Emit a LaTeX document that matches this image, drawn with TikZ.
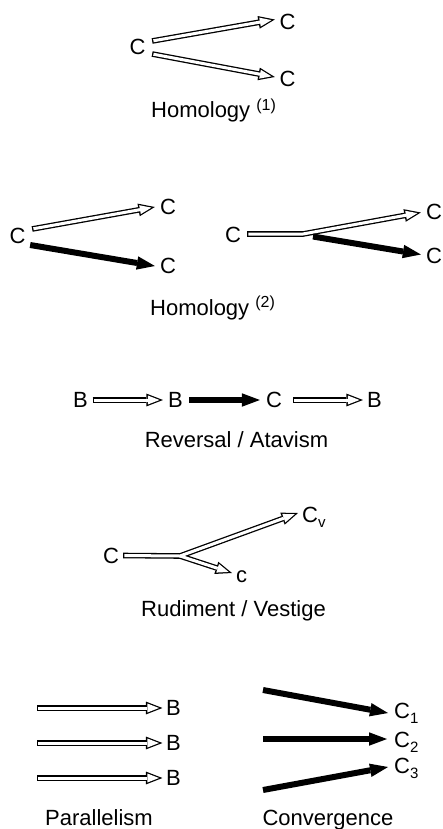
\documentclass[tikz,border=0pt]{standalone}
\usepackage{fontspec}
\setmainfont{Liberation Sans}
\usetikzlibrary{arrows.meta}

% raised index in parentheses and lowered subscript, sized for 22pt text
\newcommand\supnum[1]{\raisebox{7.5pt}{\fontsize{16}{16}\selectfont(#1)}}
\newcommand\subidx[1]{\raisebox{-5.5pt}{\fontsize{15}{15}\selectfont #1}}

\tikzset{
  sym/.style={inner sep=0pt, font=\fontsize{22}{26}\selectfont},
  caption/.style={inner sep=0pt, font=\fontsize{22}{26}\selectfont, anchor=base},
  % hollow arrow = black body with a white body laid inside it
  hollowouter/.style={line width=5.6pt, -{Triangle[length=16.5pt,width=12.8pt,line width=0pt]}},
  hollowinner/.style={white, line width=3pt, shorten <=1.3pt, shorten >=3.5pt,
    -{Triangle[length=11.6pt,width=9pt,line width=0pt]}},
  filledarrow/.style={line width=6pt, -{Triangle[length=18pt,width=13.5pt,line width=0pt]}},
}
\newcommand\hollowlink[1]{\draw[hollowouter] #1; \draw[hollowinner] #1;}

\begin{document}
\begin{tikzpicture}[x=1pt,y=-1pt]
\fill[white] (0,0) rectangle (443,829);
\useasboundingbox (0,0) rectangle (443,829);

% ---- Homology (1)
\node[sym] (a0) at (137.5,47) {C};
\node[sym] (a1) at (287.5,22) {C};
\node[sym] (a2) at (287.5,78.5) {C};
\hollowlink{([shift={(6.5,-6)}]a0.east) -- ([shift={(-4.5,-2.5)}]a1.west)}
\hollowlink{([shift={(6.5,7)}]a0.east) -- ([shift={(-4.5,-1.5)}]a2.west)}
\node[caption, anchor=base west] (h1) at (151,118) {Homology \supnum{1}};

% ---- Homology (2), left: separate origins
\node[sym] (b0) at (17.5,235.5) {C};
\node[sym] (b1) at (168,206.5) {C};
\node[sym] (b2) at (168,265.5) {C};
\hollowlink{([shift={(6.5,-6.5)}]b0.east) -- ([shift={(-5,0.5)}]b1.west)}
\draw[filledarrow] ([shift={(4.5,9.5)}]b0.east) -- ([shift={(-5,0.5)}]b2.west);

% ---- Homology (2), right: common stem
\node[sym] (b3) at (233,234.5) {C};
\node[sym] (b4) at (434,211.5) {C};
\node[sym] (b5) at (434,256) {C};
\coordinate (bsplit) at (303,234);
\coordinate (bdark) at (313,236.5);
\hollowlink{([shift={(6,-0.5)}]b3.east) -- (bsplit) -- ([shift={(-5,1)}]b4.west)}
\draw[filledarrow] (bdark) -- ([shift={(-5,-1.5)}]b5.west);
\node[caption, anchor=base west] (h2) at (150,315) {Homology \supnum{2}};

% ---- Reversal / Atavism
\node[sym] (c0) at (80.5,400) {B};
\node[sym] (c1) at (175.5,400) {B};
\node[sym] (c2) at (274,400) {C};
\node[sym] (c3) at (374.5,400) {B};
\hollowlink{([xshift=4.5pt]c0.east) -- ([xshift=-5pt]c1.west)}
\draw[filledarrow] ([xshift=6pt]c1.east) -- ([xshift=-6pt]c2.west);
\hollowlink{([xshift=11pt]c2.east) -- ([xshift=-4pt]c3.west)}
\node[caption] (rv) at (236.5,447) {Reversal / Atavism};

% ---- Rudiment / Vestige
\node[sym] (d0) at (111,555.5) {C};
\node[sym, anchor=base west] (d1) at (302,522) {C\subidx{v}};
\node[sym, anchor=base west] (d2) at (236,582) {c};
\coordinate (dsplit) at (180,556);
\draw[hollowouter] ([xshift=4pt]d0.east) -- (dsplit) -- ([shift={(-4,-9)}]d1.base west);
\draw[hollowouter] (dsplit) -- ([shift={(-4,-9)}]d2.base west);
\draw[hollowinner] ([xshift=4pt]d0.east) -- (dsplit) -- ([shift={(-4,-9)}]d1.base west);
\draw[hollowinner, shorten <=0pt] (dsplit) -- ([shift={(-4,-9)}]d2.base west);
\node[caption] (rd) at (233.5,616) {Rudiment / Vestige};

% ---- Parallelism
\node[sym] (e0) at (173.5,708) {B};
\node[sym] (e1) at (173.5,743) {B};
\node[sym] (e2) at (173.5,778) {B};
\coordinate (p0) at (37,708);
\coordinate (p1) at (37,743);
\coordinate (p2) at (37,778);
\hollowlink{(p0) -- ([xshift=-3.5pt]e0.west)}
\hollowlink{(p1) -- ([xshift=-3.5pt]e1.west)}
\hollowlink{(p2) -- ([xshift=-3.5pt]e2.west)}
\node[caption] (pl) at (99,825) {Parallelism};

% ---- Convergence
\node[sym, anchor=base west] (f0) at (394,718) {C\subidx{1}};
\node[sym, anchor=base west] (f1) at (394,747) {C\subidx{2}};
\node[sym, anchor=base west] (f2) at (394,773) {C\subidx{3}};
\coordinate (q0) at (263,690);
\coordinate (q1) at (263,739);
\coordinate (q2) at (263,790);
\draw[filledarrow] (q0) -- ([shift={(-6,-5)}]f0.base west);
\draw[filledarrow] (q1) -- ([shift={(-7,-8)}]f1.base west);
\draw[filledarrow] (q2) -- ([shift={(-6,-6)}]f2.base west);
\node[caption] (cv) at (328,825) {Convergence};
\end{tikzpicture}
\end{document}
